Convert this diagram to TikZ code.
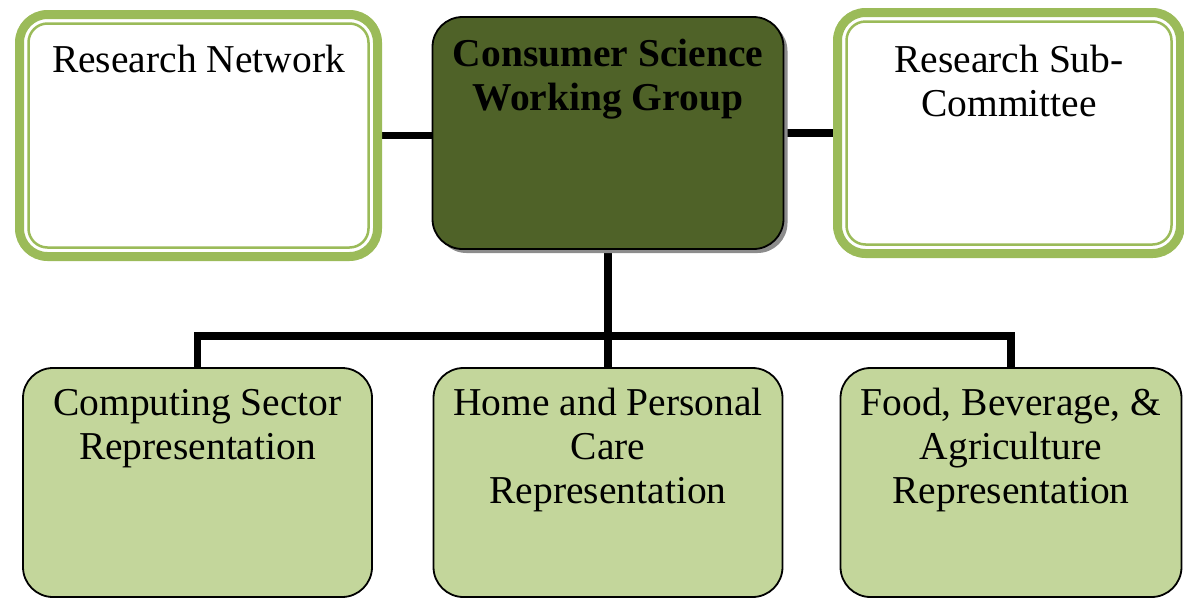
\documentclass[tikz,border=0pt]{standalone}
\usepackage{fontspec}
\setmainfont{Liberation Serif}
\usetikzlibrary{positioning,shadows,backgrounds}

\definecolor{rimgreen}{RGB}{155,187,89}
\definecolor{olivedark}{RGB}{79,98,40}
\definecolor{palegreen}{RGB}{195,214,155}

\tikzset{
  outerbox/.style={rectangle, rounded corners=28pt, draw=rimgreen, line width=9pt, fill=white, inner sep=0pt},
  innerrim/.style={draw=rimgreen, line width=2.5pt, rounded corners=19pt},
  mainbox/.style={rectangle, rounded corners=30pt, draw=black, line width=1.8pt, fill=olivedark, inner sep=0pt,
    drop shadow={shadow xshift=4pt, shadow yshift=-4pt, fill=gray!90, opacity=1}},
  repbox/.style={rectangle, rounded corners=30pt, draw=black, line width=1.8pt, fill=palegreen, inner sep=0pt},
  boxtext/.style={inner sep=0pt, align=center, font=\fontsize{39.5}{44}\selectfont},
  link/.style={line width=7.5pt}
}

\begin{document}
\begin{tikzpicture}[x=1pt, y=-1pt]
\useasboundingbox (0,0) rectangle (1184,598);

% top row
\node[outerbox, minimum width=358pt, minimum height=242pt] (rn) at (198.5,135.5) {};
\draw[innerrim] ([shift={(13.5,13.5)}]rn.north west) rectangle ([shift={(-13.5,-13.5)}]rn.south east);
\node[mainbox, minimum width=351pt, minimum height=232pt] (csw) at (608,133) {};
\node[outerbox, minimum width=343pt, minimum height=241pt] (rsc) at (1009,133) {};
\draw[innerrim] ([shift={(13.5,13.5)}]rsc.north west) rectangle ([shift={(-13.5,-13.5)}]rsc.south east);

\node[boxtext, below=35pt of rn.north] (rnt) {Research Network};
\node[boxtext, font=\fontsize{39.5}{44}\selectfont\bfseries, below=23pt of csw.north] (cswt) {Consumer Science\\Working Group};
\node[boxtext, below=37pt of rsc.north] (rsct) {Research Sub-\\Committee};

% bottom row
\node[repbox, minimum width=349pt, minimum height=229pt] (cs) at (197.5,482.5) {};
\node[repbox, minimum width=349pt, minimum height=229pt] (hp) at (608,482.5) {};
\node[repbox, minimum width=341pt, minimum height=229pt] (fb) at (1011,482.5) {};

\node[boxtext, below=22pt of cs.north] (cst) {Computing Sector\\Representation};
\node[boxtext, below=21pt of hp.north] (hpt) {Home and Personal\\Care\\Representation};
\node[boxtext, below=21pt of fb.north] (fbt) {Food, Beverage, \&\\Agriculture\\Representation};

% connectors
\coordinate (bus) at (608,336);
\begin{scope}[on background layer]
\draw[link] (rn.east) -- (rn.east -| csw.west);
\draw[link] (csw.east) -- (csw.east -| rsc.west);
\draw[link] (csw.south) -- (hp.north);
\draw[link] (cs.north) -- (cs.north |- bus) -- (fb.north |- bus) -- (fb.north);
\end{scope}

\end{tikzpicture}
\end{document}
